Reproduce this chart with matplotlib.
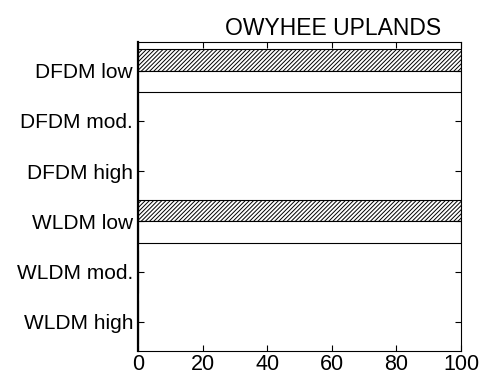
import numpy as np
import matplotlib
matplotlib.use("Agg")
import matplotlib.pyplot as plt

# Datos
categories = ["DFDM low", "DFDM mod.", "DFDM high", "WLDM low", "WLDM mod.", "WLDM high"]
hatched_values = [100, 0, 0, 100, 0, 0]
plain_values = [100, 0, 0, 100, 0, 0]
x_ticks = [0, 20, 40, 60, 80, 100]

plt.rcParams["font.family"] = ["Liberation Sans", "DejaVu Sans"]
plt.rcParams["hatch.linewidth"] = 0.7

fig = plt.figure(figsize=(4.91, 3.82), dpi=100)
ax = fig.add_axes([0.281, 0.081, 0.658, 0.809])

y = np.arange(1, len(categories) + 1)
h = 0.43
ax.barh(y - h / 2, hatched_values, height=h, color="white", edgecolor="black",
        hatch="////////", linewidth=0.8)
ax.barh(y + h / 2, plain_values, height=h, color="white", edgecolor="black",
        linewidth=0.8)

ax.set_xlim(0, 100)
ax.set_ylim(6.58, 0.43)
ax.set_xticks(x_ticks)
ax.set_xticklabels([str(v) for v in x_ticks], fontsize=15.5)
ax.set_yticks(y)
ax.set_yticklabels(categories, fontsize=15)
ax.tick_params(direction="in", top=True, right=True, length=4, width=0.8)
ax.tick_params(axis="y", pad=3.5)
ax.tick_params(axis="x", pad=2)
for s in ax.spines.values():
    s.set_linewidth(0.8)
ax.spines["left"].set_linewidth(1.6)
# el título está desplazado a la derecha en el original
ax.set_title("OWYHEE UPLANDS", fontsize=16.5, pad=5, x=0.605)

fig.savefig("out.png", dpi=100)
